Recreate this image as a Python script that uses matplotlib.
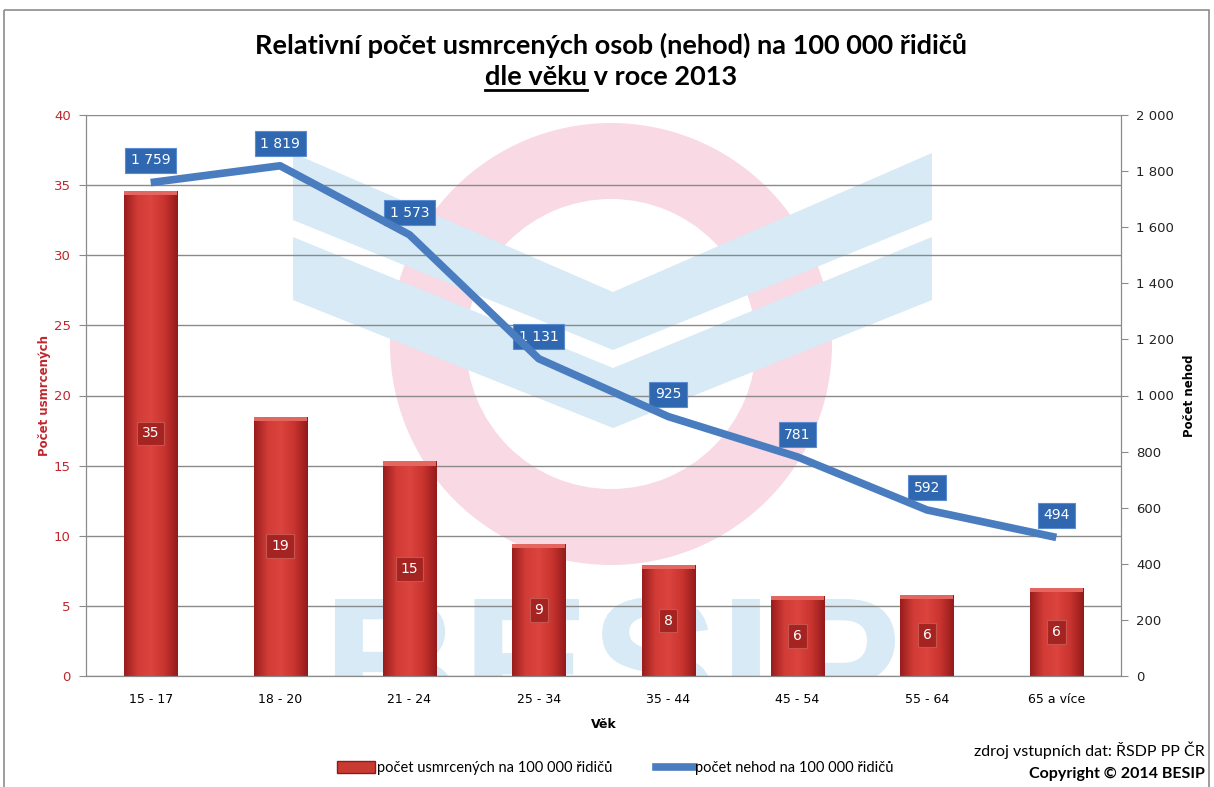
import numpy as np
import matplotlib
matplotlib.use("Agg")
import matplotlib.pyplot as plt
from matplotlib.patches import Rectangle, Wedge, Polygon, PathPatch, Patch
from matplotlib.lines import Line2D
from matplotlib.textpath import TextPath
from matplotlib.font_manager import FontProperties
from matplotlib.transforms import Affine2D
from matplotlib.colors import LinearSegmentedColormap
from matplotlib.ticker import FuncFormatter, MultipleLocator

# data
age_groups = ["15 - 17", "18 - 20", "21 - 24", "25 - 34", "35 - 44", "45 - 54", "55 - 64", "65 a více"]
killed_per_100k = [34.6, 18.5, 15.3, 9.4, 7.9, 5.7, 5.8, 6.3]
killed_labels = ["35", "19", "15", "9", "8", "6", "6", "6"]
accidents_per_100k = [1759, 1819, 1573, 1131, 925, 781, 592, 494]

title_line1 = "Relativní počet usmrcených osob (nehod) na 100 000 řidičů"
title_line2 = "dle věku v roce 2013"
legend_bar = "počet usmrcených na 100 000 řidičů"
legend_line = "počet nehod na 100 000 řidičů"

narrow = ["Lato", "DejaVu Sans"]
W, H = 1214, 787

fig = plt.figure(figsize=(W / 100, H / 100), dpi=100)

# background layer in pixel coordinates (frame + BESIP watermark)
bg = fig.add_axes([0, 0, 1, 1], zorder=0)
bg.set_xlim(0, W)
bg.set_ylim(H, 0)
bg.axis("off")
bg.add_patch(Rectangle((4, 10), 1205, 790, fill=False, ec="#8c8c8c", lw=1.2))

px_left, px_right, px_top, px_bottom = 86, 1121, 115, 676
plot_clip = Rectangle((px_left, px_top), px_right - px_left, px_bottom - px_top,
                      transform=bg.transData, fill=False, lw=0)
bg.add_patch(plot_clip)

pink = "#f9d9e3"
light_blue = "#d7eaf6"
bg.add_patch(Wedge((611, 344), 221, 0, 360, width=76, color=pink, lw=0))
bg.add_patch(Polygon([(293, 153), (613, 292), (932, 153), (932, 220), (613, 350), (293, 220)],
                     color=light_blue, lw=0))
bg.add_patch(Polygon([(293, 237), (613, 368), (932, 237), (932, 300), (613, 428), (293, 300)],
                     color=light_blue, lw=0))
tp = TextPath((0, 0), "BESIP", prop=FontProperties(family="Liberation Sans", weight="bold"), size=100)
ext = tp.get_extents()
tr = (Affine2D().translate(-ext.x0, -ext.y0)
      .scale(560 / ext.width, -135 / ext.height).translate(335, 732))
besip = PathPatch(tr.transform_path(tp), color=light_blue, lw=0)
bg.add_patch(besip)
besip.set_clip_path(plot_clip)

# main axes
ax = fig.add_axes([px_left / W, 1 - px_bottom / H, (px_right - px_left) / W, (px_bottom - px_top) / H],
                  zorder=1)
ax.set_facecolor("none")
ax2 = ax.twinx()
ax2.set_zorder(2)

x = np.arange(len(age_groups))
bar_w = 0.41
bars = ax.bar(x, killed_per_100k, width=bar_w, color="#c93a33", zorder=3)

# gradient fill for the bars
grad = LinearSegmentedColormap.from_list("barred", ["#9a1d1d", "#d23c36", "#dc443e", "#c9342f", "#951b1b"])
g = np.linspace(0, 1, 64).reshape(1, -1)
for b in bars:
    im = ax.imshow(g, cmap=grad, aspect="auto", zorder=3.5,
                   extent=[b.get_x(), b.get_x() + b.get_width(), 0, b.get_height()])
    im.set_clip_path(b)
    ax.add_patch(Rectangle((b.get_x(), b.get_height() - 0.3), b.get_width(), 0.3,
                           color="#e46660", lw=0, zorder=3.6))

for xi, v, lab in zip(x, killed_per_100k, killed_labels):
    ax.text(xi, v / 2, lab, ha="center", va="center", color="white", fontsize=10,
            family="DejaVu Sans", zorder=5,
            bbox=dict(boxstyle="square,pad=0.35", fc="#a52421", ec="#c8544f", lw=0.8))

ax.set_xlim(-0.5, len(age_groups) - 0.5)
ax.set_ylim(0, 40)
ax.yaxis.set_major_locator(MultipleLocator(5))
ax.grid(axis="y", color="#8a8a8a", lw=1, zorder=1)
ax.set_axisbelow(True)
ax.set_xticks(x)
ax.set_xticklabels(age_groups, fontsize=9, family="DejaVu Sans")
ax.tick_params(axis="x", length=0, pad=12)
ax.tick_params(axis="y", labelcolor="#c0272d", labelsize=9.5, length=5, color="#8a8a8a", pad=6)
for s in ["top"]:
    ax.spines[s].set_visible(False)
    ax2.spines[s].set_visible(False)
for s in ["left", "bottom", "right"]:
    ax.spines[s].set_color("#8a8a8a")
    ax2.spines[s].set_color("#8a8a8a")
ax.set_xlabel("Věk", fontsize=9, fontweight="bold", labelpad=9)
ax.set_ylabel("Počet usmrcených", fontsize=8.5, fontweight="bold", color="#c0272d", labelpad=2)

# line on the secondary axis
line_color = "#4a7dbf"
ax2.plot(x, accidents_per_100k, color=line_color, lw=5.5, solid_joinstyle="round",
         solid_capstyle="butt", zorder=4)
for xi, v in zip(x, accidents_per_100k):
    ax2.annotate(f"{v:,}".replace(",", " "), (xi, v), xytext=(0, 16), textcoords="offset points",
                 ha="center", va="center", color="white", fontsize=10, family="DejaVu Sans",
                 bbox=dict(boxstyle="square,pad=0.4", fc="#2f68b0", ec="#5b8bd0", lw=0.8))
ax2.set_ylim(0, 2000)
ax2.yaxis.set_major_locator(MultipleLocator(200))
ax2.yaxis.set_major_formatter(FuncFormatter(lambda v, p: f"{int(v):,}".replace(",", " ")))
ax2.tick_params(axis="y", labelsize=9.5, length=5, color="#8a8a8a", labelcolor="#222222", pad=6)
ax2.set_ylabel("Počet nehod", fontsize=8.5, fontweight="bold", labelpad=6)

# title
fig.text(0.5035, 1 - 45 / H, title_line1, ha="center", va="center", fontsize=19.5,
         fontweight="bold", family=narrow)
t2 = fig.text(0.5035, 1 - 77 / H, title_line2, ha="center", va="center", fontsize=19.5,
              fontweight="bold", family=narrow)
fig.canvas.draw()
r = fig.canvas.get_renderer()
bb2 = t2.get_window_extent(r)
tmp = fig.text(bb2.x0 / W, 1 - 77 / H, "dle věku", ha="left", va="center", fontsize=19.5,
               fontweight="bold", family=narrow, alpha=0)
bbu = tmp.get_window_extent(r)
fig.add_artist(Line2D([bbu.x0 / W, bbu.x1 / W], [(bbu.y0 - 1) / H] * 2, color="black", lw=2))

# legend
handles = [Patch(facecolor="#c93a33", edgecolor="#8e1a1a"),
           Line2D([0], [0], color=line_color, lw=5.5)]
fig.legend(handles, [legend_bar, legend_line], loc="center", bbox_to_anchor=(0.507, 1 - 768 / H),
           ncol=2, frameon=False, prop=dict(family=narrow, size=10.5), handlelength=2.6,
           handleheight=0.8, handletextpad=0.1, columnspacing=3)

# source
fig.text(1205 / W, 1 - 750 / H, "zdroj vstupních dat: ŘSDP PP ČR", ha="right", va="center",
         fontsize=11.5, family=narrow)
fig.text(1205 / W, 1 - 774 / H, "Copyright © 2014 BESIP", ha="right", va="center",
         fontsize=11.5, fontweight="bold", family=narrow)

fig.savefig("out.png", dpi=100)
